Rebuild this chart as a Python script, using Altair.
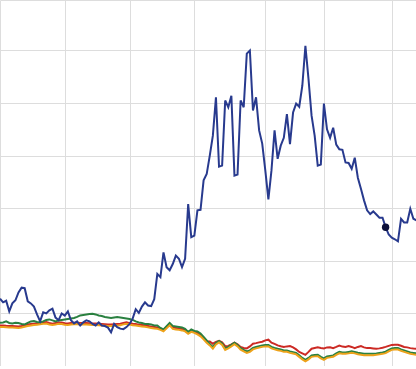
import altair as alt
import pandas as pd

# trading-day index (x) and month-start gridline positions
n_days = 136
month_ticks = [21, 42, 63, 86, 105, 127]
y_ticks = [10, 20, 30, 40, 50, 60]

blue = [12.8, 12.1, 12.4, 10.4, 11.9, 12.5, 14.0, 14.9, 14.8, 12.3,
        11.9, 11.3, 9.8, 8.5, 10.2, 10.0, 10.6, 10.9, 9.2, 8.7,
        10.0, 9.6, 10.4, 8.7, 8.1, 8.5, 7.7, 8.3, 8.7, 8.5,
        8.0, 7.7, 8.3, 7.7, 7.6, 7.3, 6.4, 8.0, 7.4, 7.1,
        7.0, 7.4, 8.0, 9.0, 10.8, 10.1, 11.3, 12.1, 11.5, 11.4,
        12.7, 17.5, 16.9, 21.6, 18.8, 18.2, 19.4, 21.0, 20.4, 18.8,
        20.4, 30.8, 24.5, 24.8, 29.6, 29.7, 35.3, 36.5, 40.0, 43.8,
        51.1, 37.9, 38.1, 50.5, 49.2, 51.4, 36.2, 36.4, 50.5, 49.2,
        59.4, 60.0, 48.6, 51.1, 44.8, 42.3, 37.2, 31.7, 37.2, 44.8,
        39.4, 41.9, 43.4, 47.9, 42.2, 48.2, 49.9, 49.3, 53.3, 60.9,
        54.6, 47.6, 43.8, 38.1, 38.3, 49.9, 45.0, 43.4, 45.3, 42.1,
        41.2, 41.1, 38.7, 38.6, 37.5, 39.6, 35.8, 33.7, 31.5, 29.6,
        28.9, 29.4, 28.8, 28.2, 28.2, 26.4, 25.0, 24.4, 24.1, 23.7,
        28.0, 27.3, 27.3, 29.9, 28.0, 27.7]

green = [8.23, 8.29, 8.48, 8.19, 8.10, 8.23, 8.19, 8.00, 7.91, 8.19,
         8.48, 8.57, 8.38, 8.29, 8.48, 8.76, 8.86, 8.67, 8.48, 8.67,
         8.76, 8.86, 8.95, 9.05, 9.14, 9.33, 9.62, 9.71, 9.81, 9.90,
         9.94, 9.81, 9.62, 9.52, 9.33, 9.24, 9.14, 9.24, 9.33, 9.24,
         9.14, 9.05, 8.95, 8.76, 8.48, 8.29, 8.19, 8.00, 8.00, 7.91,
         7.72, 7.72, 7.24, 6.96, 7.59, 8.19, 7.62, 7.53, 7.43, 7.34,
         7.05, 6.48, 6.96, 6.67, 6.58, 6.20, 5.53, 4.87, 4.20, 3.59,
         4.39, 4.77, 4.30, 3.35, 3.63, 4.01, 4.43, 4.01, 3.40, 3.06,
         2.78, 2.97, 3.44, 3.63, 3.78, 3.92, 4.01, 4.01, 3.63, 3.44,
         3.29, 3.16, 2.97, 2.97, 2.78, 2.64, 2.49, 2.02, 1.54, 1.16,
         1.54, 2.02, 2.11, 2.15, 1.73, 1.44, 1.83, 1.92, 2.02, 2.40,
         2.68, 2.59, 2.59, 2.68, 2.78, 2.68, 2.53, 2.43, 2.34, 2.34,
         2.34, 2.34, 2.40, 2.49, 2.59, 2.72, 3.06, 3.35, 3.40, 3.40,
         3.16, 2.97, 2.78, 2.59, 2.49, 2.40]

red = [7.72, 7.68, 7.64, 7.62, 7.59, 7.57, 7.53, 7.62, 7.76, 7.89,
       7.98, 8.06, 8.14, 8.23, 8.29, 8.35, 8.19, 8.06, 8.16, 8.29,
       8.27, 8.12, 8.08, 8.17, 8.23, 8.21, 8.19, 8.17, 8.16, 8.12,
       8.08, 8.06, 8.04, 7.98, 7.93, 7.87, 7.89, 7.95, 8.00, 8.04,
       8.19, 8.33, 8.16, 8.04, 7.97, 7.87, 7.81, 7.76, 7.62, 7.49,
       7.43, 7.34, 7.15, 6.86, 7.43, 8.00, 7.34, 7.24, 7.15, 7.05,
       6.86, 6.39, 6.77, 6.58, 6.29, 5.91, 5.34, 4.68, 4.68, 4.24,
       4.58, 4.77, 4.49, 3.76, 3.82, 4.11, 4.43, 4.11, 3.63, 3.44,
       3.35, 3.73, 4.24, 4.35, 4.49, 4.62, 4.87, 5.00, 4.43, 4.20,
       3.92, 3.76, 3.63, 3.73, 3.78, 3.54, 3.16, 2.68, 2.40, 2.11,
       2.68, 3.29, 3.44, 3.57, 3.44, 3.35, 3.54, 3.57, 3.40, 3.63,
       3.88, 3.69, 3.63, 3.78, 3.63, 3.40, 3.63, 3.78, 3.54, 3.40,
       3.40, 3.35, 3.29, 3.35, 3.48, 3.63, 3.82, 4.01, 4.05, 4.05,
       3.86, 3.63, 3.54, 3.40, 3.31, 3.29]

orange = [7.44, 7.40, 7.36, 7.34, 7.31, 7.29, 7.25, 7.34, 7.48, 7.61,
          7.70, 7.78, 7.86, 7.95, 8.01, 8.07, 7.91, 7.78, 7.88, 8.01,
          7.99, 7.84, 7.80, 7.89, 7.95, 7.93, 7.91, 7.89, 7.88, 7.84,
          7.80, 7.78, 7.76, 7.70, 7.65, 7.59, 7.61, 7.67, 7.72, 7.76,
          7.91, 8.05, 7.88, 7.76, 7.69, 7.59, 7.53, 7.48, 7.34, 7.21,
          7.15, 7.06, 6.87, 6.58, 7.15, 7.72, 7.06, 6.96, 6.87, 6.77,
          6.58, 6.11, 6.49, 6.30, 6.01, 5.63, 5.06, 4.40, 3.92, 3.31,
          4.11, 4.49, 4.02, 3.07, 3.35, 3.73, 4.15, 3.73, 3.12, 2.78,
          2.50, 2.69, 3.16, 3.35, 3.50, 3.64, 3.73, 3.73, 3.35, 3.16,
          3.01, 2.88, 2.69, 2.69, 2.50, 2.36, 2.21, 1.74, 1.26, 0.88,
          1.26, 1.74, 1.83, 1.87, 1.45, 1.16, 1.55, 1.64, 1.74, 2.12,
          2.40, 2.31, 2.31, 2.40, 2.50, 2.40, 2.25, 2.15, 2.06, 2.06,
          2.06, 2.06, 2.12, 2.21, 2.31, 2.44, 2.78, 3.07, 3.12, 3.12,
          2.88, 2.69, 2.50, 2.31, 2.21, 2.12]

marker_day = [125]
marker_value = [26.4]

series_names = ["red", "green", "orange", "blue"]
series_colors = ["#cc2a24", "#2a8040", "#eda21a", "#283a8e"]

rows = []
for order, (name, vals) in enumerate(zip(series_names, [red, green, orange, blue])):
    for d, v in enumerate(vals):
        rows.append({"day": d, "value": v, "series": name, "order": order})
df = pd.DataFrame(rows)
marker_df = pd.DataFrame({"day": marker_day, "value": marker_value})

x_scale = alt.Scale(domain=[0, 134.85], nice=False, zero=False)
y_scale = alt.Scale(domain=[0, 69.6], nice=False, zero=False)

x_axis = alt.Axis(values=month_ticks, grid=True, labels=False, ticks=False,
                  domain=False, title=None, gridColor="#dddddd", gridWidth=1)
y_axis = alt.Axis(values=y_ticks, grid=True, labels=False, ticks=False,
                  domain=False, title=None, gridColor="#dddddd", gridWidth=1)

lines = alt.Chart(df).mark_line(strokeWidth=2, clip=True).encode(
    x=alt.X("day:Q", scale=x_scale, axis=x_axis),
    y=alt.Y("value:Q", scale=y_scale, axis=y_axis),
    color=alt.Color("series:N", scale=alt.Scale(domain=series_names, range=series_colors), legend=None),
    order=alt.Order("order:Q"),
    detail="series:N",
)

marker = alt.Chart(marker_df).mark_point(filled=True, size=55, color="#0b0f3a", opacity=1, clip=True).encode(
    x=alt.X("day:Q", scale=x_scale),
    y=alt.Y("value:Q", scale=y_scale),
)

chart = alt.layer(lines, marker).properties(
    width=416, height=366, padding=0, autosize=alt.AutoSizeParams(type="none")
).configure_view(stroke=None).configure(background="white")

chart.save("out.html", embed_options={"renderer": "svg", "actions": False})
